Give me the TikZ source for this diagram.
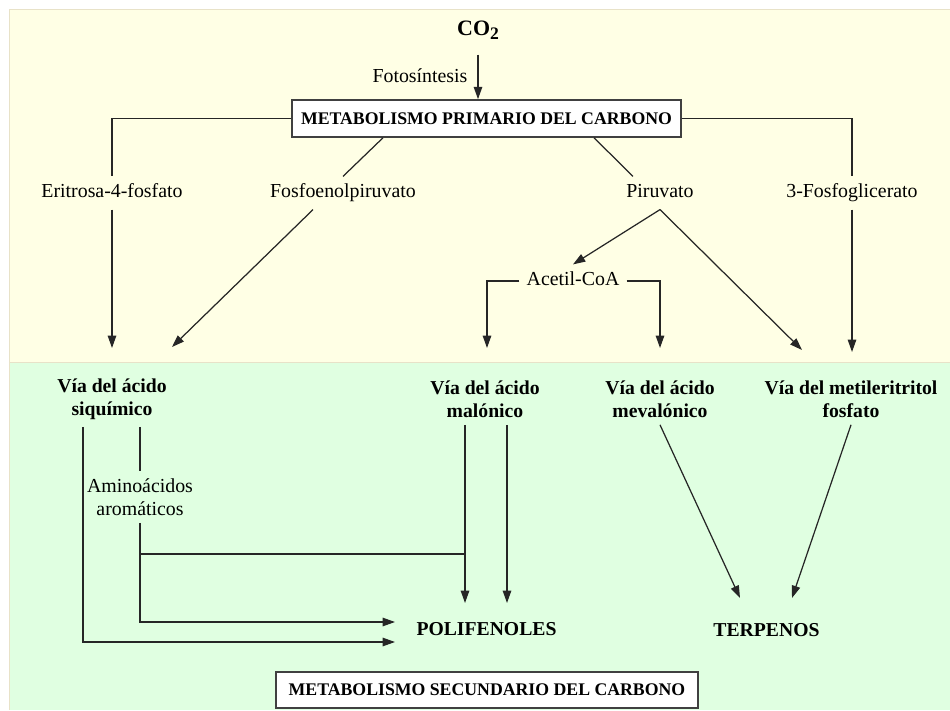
\documentclass[tikz,border=0pt]{standalone}
\usepackage{fontspec}
\setmainfont{Liberation Serif}
\usepackage{tikz}
\usetikzlibrary{arrows.meta, positioning}
\definecolor{fondoprim}{RGB}{255,255,229}
\definecolor{fondosec}{RGB}{224,255,225}
\definecolor{bordefondo}{RGB}{232,226,200}

\begin{document}
\begin{tikzpicture}[>={Triangle[length=7pt,width=4.8pt]},
  linea/.style={line width=0.7pt, draw=black!85},
  flecha/.style={linea, ->},
  lbl/.style={font=\fontsize{11.3}{13}\selectfont, inner sep=4pt, text height=8pt, text depth=2.5pt},
  lbl2/.style={font=\fontsize{11.3}{13}\selectfont, inner sep=4pt, align=center},
  via/.style={font=\fontsize{11.2}{13.1}\selectfont\bfseries, align=center, inner sep=4pt},
  caja/.style={draw=black!75, line width=0.9pt, fill=white, font=\fontsize{10.1}{12}\selectfont\bfseries, inner sep=3pt}]
  \useasboundingbox (0,0) rectangle (19,14.2);
  \fill[fondoprim] (0.18,6.96) rectangle (19,14.02);
  \fill[fondosec] (0.18,0) rectangle (19,6.96);
  \draw[bordefondo, line width=0.5pt] (0.18,0) -- (0.18,14.02) -- (19,14.02);
  \draw[bordefondo, line width=0.5pt] (0.18,6.96) -- (19,6.96);

  \node[via, font=\fontsize{12.5}{14}\selectfont\bfseries] (co2) at (9.56,13.6) {CO\raisebox{-0.4ex}{\fontsize{10}{10}\selectfont 2}};
  \node[lbl] (foto) at (8.4,12.64) {Fotosíntesis};
  \node[caja, minimum width=7.79cm, minimum height=0.74cm] (prim) at (9.73,11.83) {METABOLISMO PRIMARIO DEL CARBONO};
  \node[lbl] (eri) at (2.24,10.34) {Eritrosa-4-fosfato};
  \node[lbl] (fosfo) at (6.86,10.34) {Fosfoenolpiruvato};
  \node[lbl] (piru) at (13.2,10.34) {Piruvato};
  \node[lbl] (fosfog) at (17.04,10.34) {3-Fosfoglicerato};
  \node[lbl] (acetil) at (11.46,8.58) {Acetil-CoA};

  \node[via] (siq) at (2.24,6.22) {Vía del ácido\\siquímico};
  \node[via] (mal) at (9.7,6.22) {Vía del ácido\\malónico};
  \node[via] (mev) at (13.2,6.22) {Vía del ácido\\mevalónico};
  \node[via] (mep) at (17.02,6.22) {Vía del metileritritol\\fosfato};
  \node[lbl2] (amino) at (2.8,4.26) {Aminoácidos\\aromáticos};
  \node[via] (pol) at (9.73,1.62) {POLIFENOLES};
  \node[via] (terp) at (15.33,1.6) {TERPENOS};
  \node[caja, minimum width=8.44cm, minimum height=0.72cm] (sec) at (9.74,0.4) {METABOLISMO SECUNDARIO DEL CARBONO};

  \coordinate (siqa) at (2.24,7.24);
  \coordinate (siqb) at (3.44,7.26);
  \coordinate (mala) at (9.74,7.24);
  \coordinate (meva) at (13.2,7.24);
  \coordinate (mepa) at (16.04,7.2);
  \coordinate (mepb) at (17.04,7.16);
  \coordinate (pa) at (7.9,1.76);
  \coordinate (pb) at (7.9,1.36);
  \coordinate (jn) at (9.3,3.12);
  \coordinate (pola) at (9.3,2.14);
  \coordinate (polb) at (10.14,2.14);
  \coordinate (terpa) at (14.8,2.24);
  \coordinate (terpb) at (15.84,2.24);

  \draw[flecha, shorten <=0.16cm] (co2.south) -- (co2.south |- prim.north);
  \draw[linea] (prim.west) -| (eri.north);
  \draw[flecha] (eri.south) -- (siqa);
  \draw[linea] ([xshift=-2.07cm]prim.south) -- (fosfo.north);
  \draw[flecha] ([xshift=-0.6cm]fosfo.south) -- (siqb);
  \draw[linea] ([xshift=2.15cm]prim.south) -- ([xshift=-0.54cm]piru.north);
  \draw[flecha] (piru.south) -- (acetil.north);
  \draw[flecha] (piru.south) -- (mepa);
  \draw[linea] (prim.east) -| (fosfog.north);
  \draw[flecha] (fosfog.south) -- (mepb);
  \draw[flecha] (acetil.west) -| (mala);
  \draw[flecha] (acetil.east) -| (meva);

  \draw[flecha] ([xshift=-0.58cm]siq.south) |- (pb);
  \draw[linea] (siq.south -| amino.north) -- (amino.north);
  \draw[flecha] (amino.south) |- (pa);
  \draw[linea] (amino.south |- jn) -- (jn);
  \draw[flecha] (mal.south -| jn) -- (pola);
  \draw[flecha] (mal.south -| polb) -- (polb);
  \draw[flecha] (mev.south) -- (terpa);
  \draw[flecha] (mep.south) -- (terpb);
\end{tikzpicture}
\end{document}
